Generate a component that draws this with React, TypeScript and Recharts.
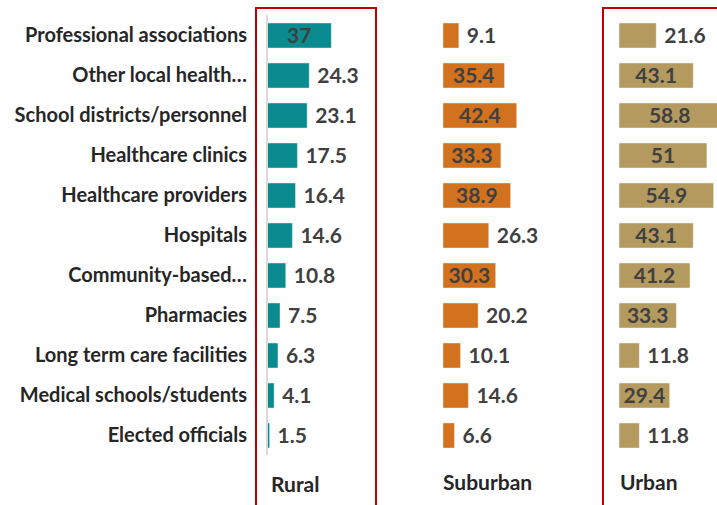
import React from "react";
import { Bar, BarChart, LabelList, XAxis, YAxis } from "recharts";

const categories = [
  "Professional associations",
  "Other local health…",
  "School districts/personnel",
  "Healthcare clinics",
  "Healthcare providers",
  "Hospitals",
  "Community-based…",
  "Pharmacies",
  "Long term care facilities",
  "Medical schools/students",
  "Elected officials",
];
const rural = [37, 24.3, 23.1, 17.5, 16.4, 14.6, 10.8, 7.5, 6.3, 4.1, 1.5];
const suburban = [9.1, 35.4, 42.4, 33.3, 38.9, 26.3, 30.3, 20.2, 10.1, 14.6, 6.6];
const urban = [21.6, 43.1, 58.8, 51, 54.9, 43.1, 41.2, 33.3, 11.8, 29.4, 11.8];

const data = categories.map((name, i) => ({
  name,
  rural: rural[i],
  suburban: suburban[i],
  urban: urban[i],
}));

const FONT = "Lato, 'Open Sans', sans-serif";

// big bars get the number inside, small ones get it just past the end
function ValueLabel(props: any) {
  const { x, y, width, height, value } = props;
  const inside = value >= 28;
  return (
    <text
      x={inside ? x + width / 2 : x + width + 8}
      y={y + height / 2}
      dy="0.36em"
      textAnchor={inside ? "middle" : "start"}
      fill="#404040"
      fontSize={21}
      fontWeight={700}
      fontFamily={FONT}
    >
      {value}
    </text>
  );
}

function Panel({ dataKey, color, width, withAxis }: { dataKey: string; color: string; width: number; withAxis?: boolean }) {
  return (
    <BarChart
      width={width}
      height={505}
      data={data}
      layout="vertical"
      barSize={25}
      margin={{ top: 15, right: 0, bottom: 50, left: 0 }}
    >
      <XAxis type="number" domain={[0, 65]} hide />
      <YAxis
        type="category"
        dataKey="name"
        hide={!withAxis}
        width={withAxis ? 267 : 0}
        axisLine={{ stroke: "#d9d9d9", strokeWidth: 2 }}
        tickLine={false}
        tickMargin={14}
        interval={0}
        tick={{ fill: "#262626", fontSize: 20, fontWeight: 700, fontFamily: FONT }}
      />
      <Bar dataKey={dataKey} fill={color} stroke="#ffffff" strokeOpacity={0.4} isAnimationActive={false}>
        <LabelList dataKey={dataKey} content={ValueLabel} />
      </Bar>
    </BarChart>
  );
}

const titleStyle: React.CSSProperties = {
  position: "absolute",
  top: 469,
  fontFamily: FONT,
  fontWeight: 700,
  fontSize: 21,
  color: "#262626",
};

export default function App() {
  return (
    <div style={{ position: "absolute", left: 0, top: 0, width: 717, height: 505, overflow: "hidden", background: "#fff" }}>
      <div style={{ position: "absolute", left: 0, top: 0 }}>
        <Panel dataKey="rural" color="#0a8b90" width={380} withAxis />
      </div>
      <div style={{ position: "absolute", left: 443, top: 0 }}>
        <Panel dataKey="suburban" color="#d2711e" width={113} />
      </div>
      <div style={{ position: "absolute", left: 619, top: 0 }}>
        <Panel dataKey="urban" color="#b49a5e" width={112} />
      </div>
      <div style={{ ...titleStyle, left: 271, top: 471 }}>Rural</div>
      <div style={{ ...titleStyle, left: 443 }}>Suburban</div>
      <div style={{ ...titleStyle, left: 620 }}>Urban</div>
      <div style={{ position: "absolute", left: 255, top: 7, width: 118, height: 520, border: "2px solid #c00000" }} />
      <div style={{ position: "absolute", left: 602, top: 7, width: 140, height: 520, border: "2px solid #c00000" }} />
    </div>
  );
}
